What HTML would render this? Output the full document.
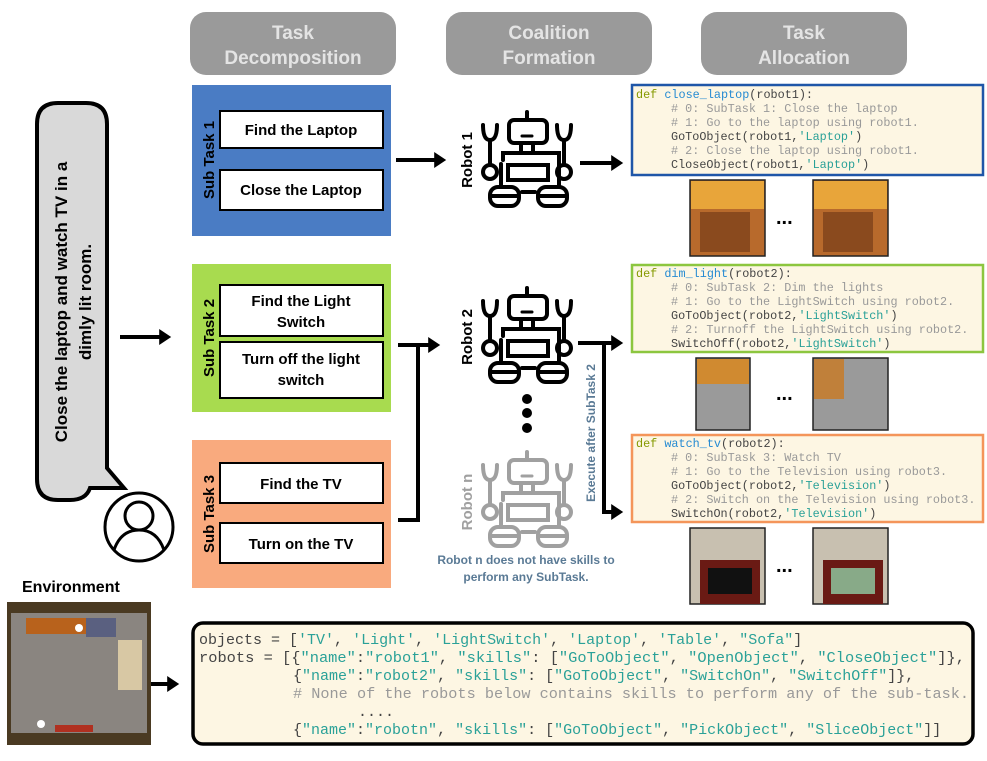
<!DOCTYPE html>
<html><head><meta charset="utf-8"><style>
body{margin:0;background:#fff;}
svg{display:block;font-family:"Liberation Sans",sans-serif;}
.m{font-family:"Liberation Mono","DejaVu Sans Mono",monospace;}
</style></head><body>
<svg width="987" height="761" viewBox="0 0 987 761" xmlns="http://www.w3.org/2000/svg">
<defs>
<marker id="ah" markerWidth="4" markerHeight="4" refX="2.2" refY="2" orient="auto" markerUnits="strokeWidth"><path d="M0,0 L3,2 L0,4 Z" fill="#000"/></marker>
<g id="robot" fill="none" stroke-width="4" stroke-linecap="round">
<line x1="0" y1="0" x2="0" y2="8"/>
<rect x="-18" y="8" width="38" height="23" rx="5"/>
<line x1="-5" y1="24" x2="5" y2="24" stroke-width="3"/>
<rect x="-6" y="31" width="12" height="10"/>
<path d="M-24,48 L-24,41 L32,41 L32,75 M-26,75 L-26,52"/>
<rect x="-19" y="53" width="40" height="15"/>
<line x1="-37" y1="28" x2="-37" y2="53"/><line x1="37" y1="28" x2="37" y2="53"/>
<path d="M-44,13 Q-44,28 -37,28 Q-30,28 -30,13 M30,13 Q30,28 37,28 Q44,28 44,13"/>
<circle cx="-37" cy="60" r="7"/><circle cx="37" cy="60" r="7"/>
<rect x="-37" y="75" width="29" height="19" rx="8"/><rect x="11" y="75" width="29" height="19" rx="8"/>
<line x1="-37" y1="84" x2="-8" y2="84"/><line x1="11" y1="84" x2="40" y2="84"/>
<line x1="-5" y1="80" x2="8" y2="80"/>
</g>
</defs>

<!-- headers -->
<g font-weight="bold" font-size="19" fill="#e4e4e4" text-anchor="middle">
<rect x="190" y="12" width="206" height="63" rx="16" fill="#9a9a9a"/>
<text x="293" y="39">Task</text><text x="293" y="64">Decomposition</text>
<rect x="446" y="12" width="206" height="63" rx="16" fill="#9a9a9a"/>
<text x="549" y="39">Coalition</text><text x="549" y="64">Formation</text>
<rect x="701" y="12" width="206" height="63" rx="16" fill="#9a9a9a"/>
<text x="804" y="39">Task</text><text x="804" y="64">Allocation</text>
</g>

<!-- speech bubble -->
<path d="M58,103 H86 Q107,103 107,124 V468 L124,488 L90,488 Q86,500 70,500 H58 Q37,500 37,479 V124 Q37,103 58,103 Z" fill="#d9d9d9" stroke="#000" stroke-width="4"/>
<g transform="translate(72,302) rotate(-90)" font-weight="bold" font-size="17" text-anchor="middle">
<text x="0" y="-5">Close the laptop and watch TV in a</text>
<text x="0" y="19">dimly lit room.</text>
</g>
<circle cx="139" cy="527" r="34" fill="none" stroke="#000" stroke-width="3"/>
<circle cx="139" cy="516" r="14" fill="none" stroke="#000" stroke-width="3"/>
<path d="M114,550 Q121,530 139,530 Q157,530 164,550" fill="none" stroke="#000" stroke-width="3"/>

<!-- subtasks -->
<rect x="192" y="85" width="199" height="151" fill="#4a7cc4"/>
<rect x="192" y="264" width="199" height="148" fill="#a8db4f"/>
<rect x="192" y="440" width="199" height="148" fill="#f9aa7e"/>
<g font-weight="bold" font-size="15">
<text transform="translate(214,160) rotate(-90)" text-anchor="middle">Sub Task 1</text>
<text transform="translate(214,338) rotate(-90)" text-anchor="middle">Sub Task 2</text>
<text transform="translate(214,514) rotate(-90)" text-anchor="middle">Sub Task 3</text>
</g>
<g fill="#fff" stroke="#000" stroke-width="2">
<rect x="220" y="111" width="163" height="37"/><rect x="220" y="170" width="163" height="40"/>
<rect x="220" y="285" width="163" height="51"/><rect x="220" y="342" width="163" height="56"/>
<rect x="220" y="463" width="163" height="40"/><rect x="220" y="523" width="163" height="40"/>
</g>
<g font-weight="bold" font-size="15" text-anchor="middle">
<text x="301" y="135">Find the Laptop</text>
<text x="301" y="195">Close the Laptop</text>
<text x="301" y="306">Find the Light</text><text x="301" y="327">Switch</text>
<text x="301" y="364">Turn off the light</text><text x="301" y="385">switch</text>
<text x="301" y="489">Find the TV</text>
<text x="301" y="549">Turn on the TV</text>
</g>

<!-- arrows -->
<g stroke="#000" stroke-width="4" fill="none">
<line x1="120" y1="337" x2="168" y2="337" marker-end="url(#ah)"/>
<line x1="396" y1="160" x2="443" y2="160" marker-end="url(#ah)"/>
<path d="M398,345 H418 V520 H398"/>
<line x1="418" y1="345" x2="437" y2="345" marker-end="url(#ah)"/>
<line x1="580" y1="163" x2="620" y2="163" marker-end="url(#ah)"/>
<path d="M578,343 H604 V512 H620" marker-end="url(#ah)"/>
<line x1="604" y1="343" x2="620" y2="343" marker-end="url(#ah)"/>
<line x1="150" y1="684" x2="176" y2="684" marker-end="url(#ah)"/>
</g>

<!-- robots -->
<use href="#robot" x="527" y="112" stroke="#000"/>
<use href="#robot" x="527" y="288" stroke="#000"/>
<use href="#robot" x="527" y="452" stroke="#a0a0a0"/>
<circle cx="527" cy="399" r="5"/><circle cx="527" cy="413" r="5"/><circle cx="527" cy="428" r="5"/>
<g font-weight="bold" font-size="15">
<text transform="translate(472,160) rotate(-90)" text-anchor="middle">Robot 1</text>
<text transform="translate(472,337) rotate(-90)" text-anchor="middle">Robot 2</text>
<text transform="translate(472,502) rotate(-90)" text-anchor="middle" fill="#a0a0a0">Robot n</text>
</g>
<text transform="translate(595,433) rotate(-90)" text-anchor="middle" font-weight="bold" font-size="12" fill="#5a7a95">Execute after SubTask 2</text>
<g font-weight="bold" font-size="12" fill="#5a7a95" text-anchor="middle">
<text x="526" y="564">Robot n does not have skills to</text>
<text x="526" y="581">perform any SubTask.</text>
</g>

<!-- code boxes -->
<g fill="#fdf6e3" stroke-width="2.5">
<rect x="632" y="85" width="351" height="90" stroke="#1f56a8"/>
<rect x="632" y="265" width="351" height="87" stroke="#8cc63f"/>
<rect x="632" y="435" width="351" height="87" stroke="#f4955a"/>
</g>
<g class="m" font-size="11.8" fill="#444">
<text x="636" y="98"><tspan fill="#859900">def</tspan> <tspan fill="#268bd2">close_laptop</tspan>(robot1):</text>
<text x="671" y="112" fill="#999">#&#160;0: SubTask 1: Close the laptop</text>
<text x="671" y="126" fill="#999">#&#160;1: Go to the laptop using robot1.</text>
<text x="671" y="140">GoToObject(robot1,<tspan fill="#2aa198">'Laptop'</tspan>)</text>
<text x="671" y="154" fill="#999">#&#160;2: Close the laptop using robot1.</text>
<text x="671" y="168">CloseObject(robot1,<tspan fill="#2aa198">'Laptop'</tspan>)</text>

<text x="636" y="277"><tspan fill="#859900">def</tspan> <tspan fill="#268bd2">dim_light</tspan>(robot2):</text>
<text x="671" y="291" fill="#999">#&#160;0: SubTask 2: Dim the lights</text>
<text x="671" y="305" fill="#999">#&#160;1: Go to the LightSwitch using robot2.</text>
<text x="671" y="319">GoToObject(robot2,<tspan fill="#2aa198">'LightSwitch'</tspan>)</text>
<text x="671" y="333" fill="#999">#&#160;2: Turnoff the LightSwitch using robot2.</text>
<text x="671" y="347">SwitchOff(robot2,<tspan fill="#2aa198">'LightSwitch'</tspan>)</text>

<text x="636" y="447"><tspan fill="#859900">def</tspan> <tspan fill="#268bd2">watch_tv</tspan>(robot2):</text>
<text x="671" y="461" fill="#999">#&#160;0: SubTask 3: Watch TV</text>
<text x="671" y="475" fill="#999">#&#160;1: Go to the Television using robot3.</text>
<text x="671" y="489">GoToObject(robot2,<tspan fill="#2aa198">'Television'</tspan>)</text>
<text x="671" y="503" fill="#999">#&#160;2: Switch on the Television using robot3.</text>
<text x="671" y="517">SwitchOn(robot2,<tspan fill="#2aa198">'Television'</tspan>)</text>
</g>

<!-- images -->
<g stroke="#222" stroke-width="1.5">
<rect x="690" y="180" width="75" height="76" fill="#b86a2c"/>
<rect x="813" y="180" width="75" height="76" fill="#b86a2c"/>
<rect x="696" y="358" width="54" height="72" fill="#9a9a9a"/>
<rect x="813" y="358" width="75" height="72" fill="#9a9a9a"/>
<rect x="690" y="528" width="75" height="76" fill="#c8c0b0"/>
<rect x="813" y="528" width="75" height="76" fill="#c8c0b0"/>
</g>
<rect x="691" y="181" width="73" height="28" fill="#e8a53a"/>
<rect x="814" y="181" width="73" height="28" fill="#e8a53a"/>
<rect x="700" y="212" width="50" height="40" fill="#8a4a1e"/>
<rect x="823" y="212" width="50" height="40" fill="#8a4a1e"/>
<rect x="697" y="359" width="52" height="25" fill="#d08a30"/>
<rect x="814" y="359" width="30" height="40" fill="#c0803a"/>
<rect x="700" y="560" width="60" height="44" fill="#6a1a14"/>
<rect x="708" y="568" width="44" height="26" fill="#111"/>
<rect x="823" y="560" width="60" height="44" fill="#6a1a14"/>
<rect x="831" y="568" width="44" height="26" fill="#8a8"/>
<g font-weight="bold" font-size="20"><text x="776" y="224">...</text><text x="776" y="400">...</text><text x="776" y="572">...</text></g>

<!-- environment -->
<text x="22" y="592" font-weight="bold" font-size="16">Environment</text>
<rect x="7" y="602" width="144" height="143" fill="#4a3a22"/>
<rect x="11" y="613" width="136" height="120" fill="#8a8580"/>
<rect x="26" y="618" width="60" height="16" fill="#b8621c"/>
<rect x="86" y="618" width="30" height="19" fill="#5a6080"/>
<rect x="118" y="640" width="24" height="50" fill="#d8c8a4"/>
<rect x="55" y="725" width="38" height="7" fill="#b03020"/>
<circle cx="79" cy="628" r="4" fill="#fff"/><circle cx="41" cy="724" r="4" fill="#fff"/>

<!-- bottom code -->
<rect x="193" y="623" width="780" height="121" rx="10" fill="#fdf6e3" stroke="#000" stroke-width="3.5"/>
<g class="m" font-size="15" fill="#444">
<text x="199" y="644">objects = [<tspan fill="#2aa198">'TV'</tspan>, <tspan fill="#2aa198">'Light'</tspan>, <tspan fill="#2aa198">'LightSwitch'</tspan>, <tspan fill="#2aa198">'Laptop'</tspan>, <tspan fill="#2aa198">'Table'</tspan>, <tspan fill="#2aa198">"Sofa"</tspan>]</text>
<text x="199" y="662" textLength="766" lengthAdjust="spacingAndGlyphs">robots = [{<tspan fill="#2aa198">"name"</tspan>:<tspan fill="#2aa198">"robot1"</tspan>, <tspan fill="#2aa198">"skills"</tspan>: [<tspan fill="#2aa198">"GoToObject"</tspan>, <tspan fill="#2aa198">"OpenObject"</tspan>, <tspan fill="#2aa198">"CloseObject"</tspan>]},</text>
<text x="293" y="680">{<tspan fill="#2aa198">"name"</tspan>:<tspan fill="#2aa198">"robot2"</tspan>, <tspan fill="#2aa198">"skills"</tspan>: [<tspan fill="#2aa198">"GoToObject"</tspan>, <tspan fill="#2aa198">"SwitchOn"</tspan>, <tspan fill="#2aa198">"SwitchOff"</tspan>]},</text>
<text x="293" y="698" fill="#999" textLength="676" lengthAdjust="spacingAndGlyphs"># None of the robots below contains skills to perform any of the sub-task.</text>
<text x="358" y="716">....</text>
<text x="293" y="734">{<tspan fill="#2aa198">"name"</tspan>:<tspan fill="#2aa198">"robotn"</tspan>, <tspan fill="#2aa198">"skills"</tspan>: [<tspan fill="#2aa198">"GoToObject"</tspan>, <tspan fill="#2aa198">"PickObject"</tspan>, <tspan fill="#2aa198">"SliceObject"</tspan>]]</text>
</g>
</svg>
</body></html>
